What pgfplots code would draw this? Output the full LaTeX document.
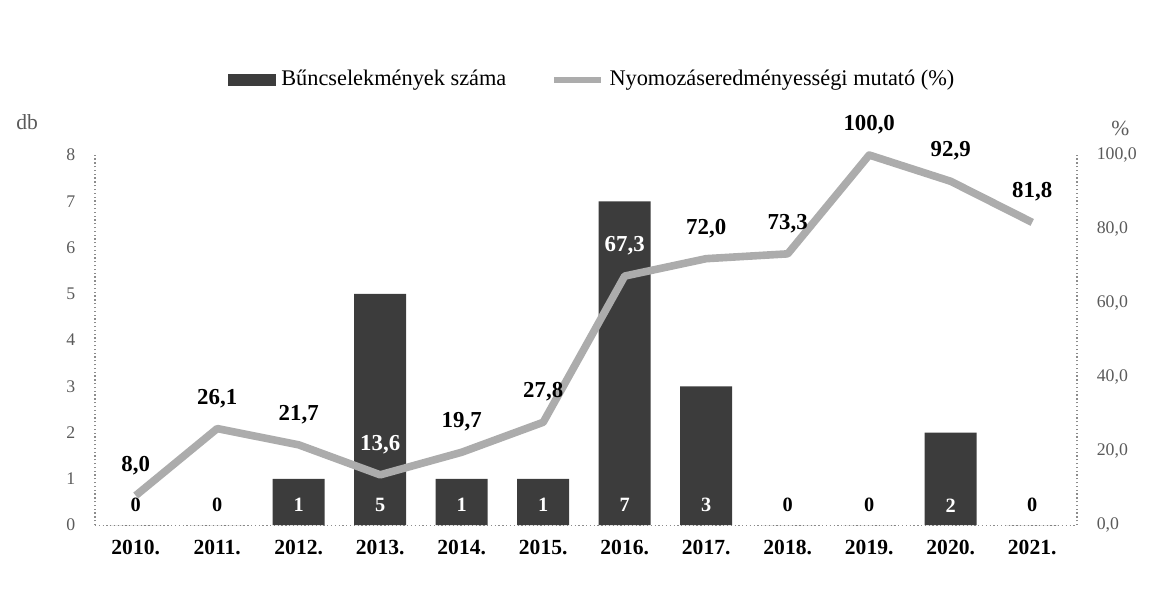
\documentclass[border=0pt]{standalone}
\usepackage{pgfplots}
\pgfplotsset{compat=1.18}
\usepackage{pgfplotstable}
\usepackage{fontspec}
\setmainfont{Liberation Serif}

\definecolor{barc}{RGB}{60,60,60}
\definecolor{linec}{RGB}{172,172,172}
\definecolor{axc}{RGB}{140,140,140}
\definecolor{tickc}{RGB}{90,90,90}

% x: position, n: number of crimes, pct: detection rate (%)
\pgfplotstableread{
x n pct
0 0 8.0
1 0 26.1
2 1 21.7
3 5 13.6
4 1 19.7
5 1 27.8
6 7 67.3
7 3 72.0
8 0 73.3
9 0 100.0
10 2 92.9
11 0 81.8
}\data

\pgfplotsset{
  base/.style={
    scale only axis,
    width=13.6cm, height=5.126cm,
    xmin=-0.5, xmax=11.55,
    clip=false,
    major tick length=0pt,
    axis line style={axc, densely dotted, line width=0.5pt},
    /pgf/number format/assume math mode=true,
  }
}

\begin{document}
\begin{tikzpicture}
\begin{axis}[base,
    ymin=0, ymax=8,
    ytick={0,...,8},
    axis y line*=left,
    axis x line*=bottom,
    xtick={0,...,11},
    xticklabels={2010.,2011.,2012.,2013.,2014.,2015.,2016.,2017.,2018.,2019.,2020.,2021.},
    xticklabel style={font=\fontsize{8.5}{10}\selectfont\bfseries, yshift=-0.08cm},
    yticklabel style={font=\fontsize{7}{8}\selectfont, text=tickc, xshift=-0.15cm},
]
\addplot[ybar, bar width=0.72cm, fill=barc, draw=none] table[x=x, y=n] {\data};

% value labels at the foot of the bars
\addplot[draw=none, mark=none, nodes near coords, point meta=explicit symbolic,
  every node near coord/.style={white, anchor=center, font=\fontsize{8}{9}\selectfont\bfseries}]
  coordinates {(2,0.43)[1] (3,0.43)[5] (4,0.43)[1] (5,0.43)[1] (6,0.43)[7] (7,0.43)[3] (10,0.43)[2]};
\addplot[draw=none, mark=none, nodes near coords, point meta=explicit symbolic,
  every node near coord/.style={black, anchor=center, font=\fontsize{8}{9}\selectfont\bfseries}]
  coordinates {(0,0.43)[0] (1,0.43)[0] (8,0.43)[0] (9,0.43)[0] (11,0.43)[0]};

\node[font=\fontsize{8.5}{9}\selectfont, text=tickc] at (rel axis cs:-0.069,1.089) {db};
\coordinate (bl) at (rel axis cs:-0.0967,-0.1919);
\coordinate (tr) at (rel axis cs:1.0794,1.4189);
\end{axis}

\begin{axis}[base,
    ymin=0, ymax=100,
    ytick={0,20,...,100},
    axis y line*=right,
    axis x line=none,
    yticklabel style={font=\fontsize{7}{8}\selectfont, text=tickc, xshift=0.15cm,
      /pgf/number format/.cd, fixed, fixed zerofill, precision=1, use comma},
    legend columns=2,
    legend style={draw=none, fill=none, at={(0.508,1.203)}, anchor=center,
      font=\fontsize{8.8}{10}\selectfont,
      /tikz/every even column/.append style={column sep=0.55cm}},
]
\addlegendimage{legend image code/.code={\fill[barc] (0cm,-0.08cm) rectangle (0.65cm,0.08cm);}}
\addlegendentry{Bűncselekmények száma}
\addplot[linec, line width=3pt, mark=none, line join=round,
  visualization depends on={value \coordindex \as \idx},
  nodes near coords={\ifnum\idx=3 \color{white}\fi\ifnum\idx=6 \color{white}\fi\pgfmathprintnumber{\pgfplotspointmeta}},
  point meta=explicit,
  every node near coord/.style={black, anchor=south, yshift=0.12cm,
    font=\fontsize{9}{11}\selectfont\bfseries,
    /pgf/number format/.cd, fixed, fixed zerofill, precision=1, use comma},
  legend image code/.code={\draw[linec, line width=2.5pt] (0cm,0cm) -- (0.65cm,0cm);}]
  table[x=x, y=pct, meta=pct] {\data};
\addlegendentry{Nyomozáseredményességi mutató (\%)}
\node[font=\fontsize{8.5}{9}\selectfont, text=tickc] at (rel axis cs:1.044,1.073) {\%};
\end{axis}
\path (bl) rectangle (tr);
\end{tikzpicture}
\end{document}
